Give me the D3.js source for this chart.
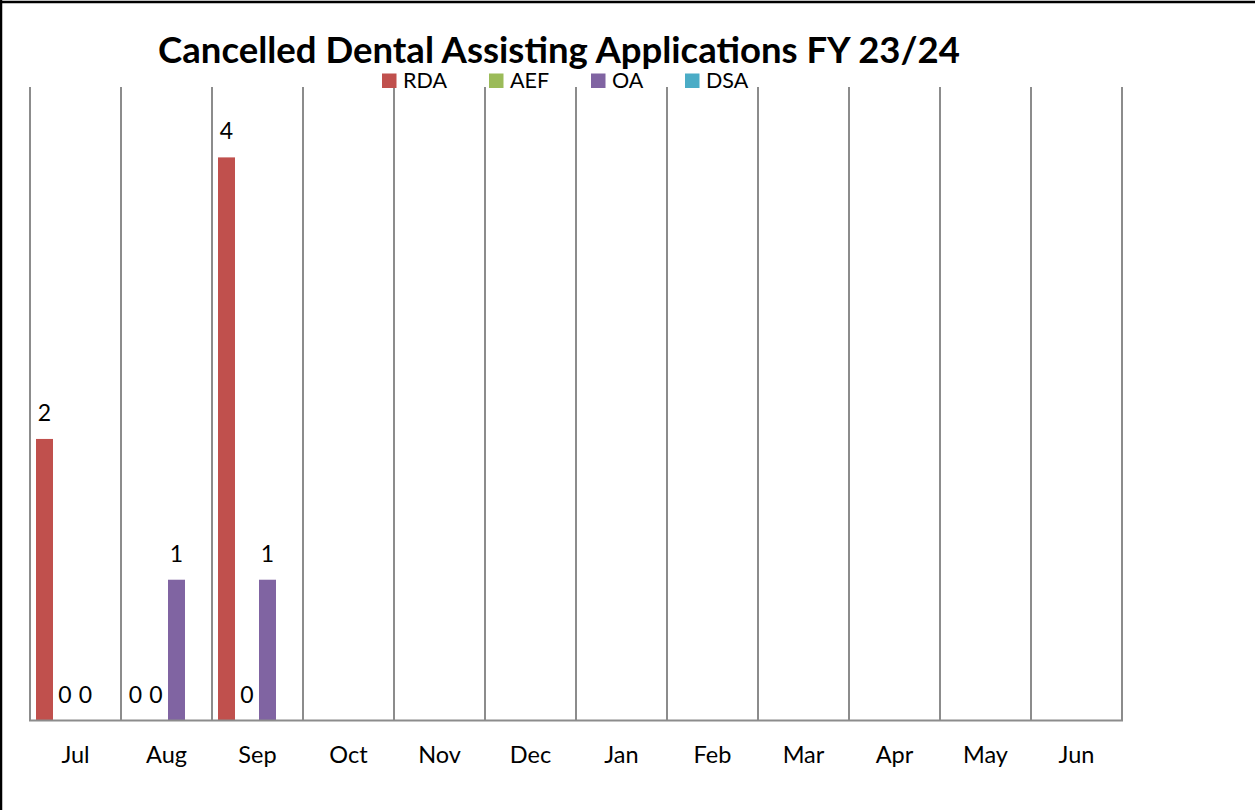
<!DOCTYPE html>
<html>
<head>
<meta charset="utf-8">
<script src="https://cdn.jsdelivr.net/npm/d3@7"></script>
<style>
  html, body { margin: 0; padding: 0; background: #fff; }
  svg { display: block; font-family: Lato, "Open Sans", sans-serif; }
</style>
</head>
<body>
<svg id="chart" width="1255" height="810"></svg>
<script>
const title = "Cancelled Dental Assisting Applications FY 23/24";
const months = ["Jul","Aug","Sep","Oct","Nov","Dec","Jan","Feb","Mar","Apr","May","Jun"];
const seriesNames = ["RDA","AEF","OA","DSA"];
const seriesColors = ["#C0504D","#9BBB59","#8064A2","#4BACC6"];
const rdaValues = [2, 0, 4, null, null, null, null, null, null, null, null, null];
const aefValues = [0, 0, 0, null, null, null, null, null, null, null, null, null];
const oaValues  = [0, 1, 1, null, null, null, null, null, null, null, null, null];
const dsaValues = [null, null, null, null, null, null, null, null, null, null, null, null];
const seriesValues = [rdaValues, aefValues, oaValues, dsaValues];

const svg = d3.select("#chart");
const W = 1255, H = 810;
svg.append("rect").attr("x",0).attr("y",0).attr("width",W).attr("height",H).attr("fill","#fff");

// outer border (top & left visible)
svg.append("line").attr("x1",0).attr("x2",W).attr("y1",2).attr("y2",2).attr("stroke","#000").attr("stroke-width",2.5);
svg.append("line").attr("x1",1).attr("x2",1).attr("y1",0).attr("y2",H).attr("stroke","#000").attr("stroke-width",2.5);

const plot = {left: 30, right: 1122, top: 87, bottom: 720.5};
const x0 = d3.scaleBand().domain(months).range([plot.left, plot.right]).padding(0);
const x1 = d3.scaleBand().domain(seriesNames).range([6, 84.5]).paddingInner(3.5/20.5).paddingOuter(0);
const y = d3.scaleLinear().domain([0, 4.5]).range([plot.bottom, plot.top]);

// vertical gridlines at category boundaries
const bounds = months.map(m => x0(m)).concat([plot.right]);
svg.append("g").selectAll("line").data(bounds).join("line")
  .attr("x1", d => d).attr("x2", d => d)
  .attr("y1", plot.top).attr("y2", plot.bottom)
  .attr("stroke", "#8c8c8c").attr("stroke-width", 2);

// bars
const groups = svg.append("g").selectAll("g").data(months).join("g")
  .attr("transform", d => `translate(${x0(d)},0)`);

const cells = (m, i) => seriesNames.map((s, j) => ({s, j, v: seriesValues[j][i]}));

groups.selectAll("rect").data(cells).join("rect")
  .filter(d => d.v !== null)
  .attr("x", d => x1(d.s)).attr("width", x1.bandwidth())
  .attr("y", d => y(d.v)).attr("height", d => y(0) - y(d.v))
  .attr("fill", d => seriesColors[d.j]);

groups.selectAll("text").data(cells).join("text")
  .filter(d => d.v !== null)
  .attr("x", d => x1(d.s) + x1.bandwidth()/2)
  .attr("y", d => y(d.v) - 18)
  .attr("text-anchor", "middle")
  .attr("font-size", 23)
  .attr("fill", "#000")
  .text(d => d.v);

// x axis line
svg.append("line").attr("x1", plot.left - 1).attr("x2", plot.right + 1)
  .attr("y1", plot.bottom).attr("y2", plot.bottom)
  .attr("stroke", "#8c8c8c").attr("stroke-width", 2);

// month labels
svg.append("g").selectAll("text").data(months).join("text")
  .attr("x", d => x0(d) + x0.bandwidth()/2)
  .attr("y", 763)
  .attr("text-anchor", "middle")
  .attr("font-size", 23.5)
  .attr("fill", "#000")
  .text(d => d);

// title
const t = svg.append("text")
  .attr("x", 559).attr("y", 63)
  .attr("text-anchor", "middle")
  .attr("font-weight", "bold")
  .attr("font-size", 34)
  .attr("fill", "#000")
  .text(title);
const tw = t.node().getComputedTextLength();
t.attr("font-size", 34 * 802 / tw);

// legend
const legendX = [382, 489, 591, 685];
const lg = svg.append("g").selectAll("g").data(seriesNames).join("g")
  .attr("transform", (d, i) => `translate(${legendX[i]},0)`);
lg.append("rect").attr("x", 0).attr("y", 73.5).attr("width", 14.5).attr("height", 14.5)
  .attr("fill", (d, i) => seriesColors[i]);
lg.append("text").attr("x", 21).attr("y", 88)
  .attr("font-size", 21.5).attr("fill", "#000")
  .text(d => d);
</script>
</body>
</html>
